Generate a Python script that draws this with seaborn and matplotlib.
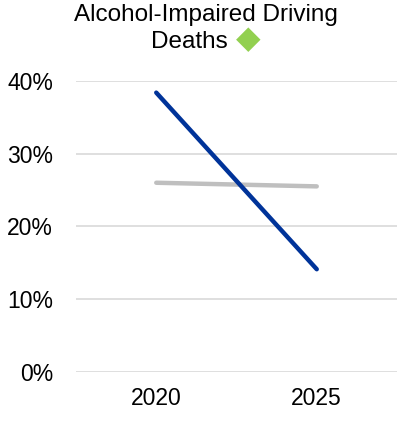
import pandas as pd
import matplotlib.pyplot as plt
import seaborn as sns
from matplotlib.ticker import PercentFormatter

years = ["2020", "2025"]
state_values = [0.384, 0.141]
national_values = [0.260, 0.255]

df = pd.DataFrame({
    "year": years * 2,
    "value": state_values + national_values,
    "series": ["State"] * 2 + ["National"] * 2,
})

sns.set_style("white")
plt.rcParams["font.family"] = ["Liberation Sans", "DejaVu Sans"]
plt.rcParams["text.color"] = "black"

fig = plt.figure(figsize=(4.04, 4.32), dpi=100)
ax = fig.add_axes([76 / 404, 1 - 371.7 / 432, 321 / 404, 290.7 / 432])

sns.lineplot(data=df, x="year", y="value", hue="series",
             palette={"State": "#003399", "National": "#BFBFBF"},
             hue_order=["National", "State"],
             linewidth=3.2, solid_capstyle="round", legend=False, ax=ax)
for line in ax.lines:
    line.set_clip_on(False)

ax.set_xlim(-0.5, 1.5)
ax.set_ylim(0, 0.4)
ax.set_yticks([0, 0.1, 0.2, 0.3, 0.4])
ax.yaxis.set_major_formatter(PercentFormatter(1.0, decimals=0))
ax.grid(axis="y", color="#D9D9D9", linewidth=1.2)
ax.set_axisbelow(True)
for s in ax.spines.values():
    s.set_visible(False)
ax.tick_params(axis="both", length=0, labelsize=16.5, colors="black",
               labelcolor="black")
ax.tick_params(axis="y", pad=16.5)
ax.tick_params(axis="x", pad=11)
ax.set_xlabel("")
ax.set_ylabel("")

fig.text(205.5 / 404, 1 - 21 / 432, "Alcohol-Impaired Driving",
         ha="center", va="baseline", fontsize=17.5, color="black")
fig.text(228 / 404, 1 - 48 / 432, "Deaths",
         ha="right", va="baseline", fontsize=17.5, color="black")
fig.text(236 / 404, 1 - 48.5 / 432, "\u25C6", color="#92D050",
         family=["DejaVu Sans"], ha="left", va="baseline", fontsize=23)

fig.savefig("out.png", dpi=100)
